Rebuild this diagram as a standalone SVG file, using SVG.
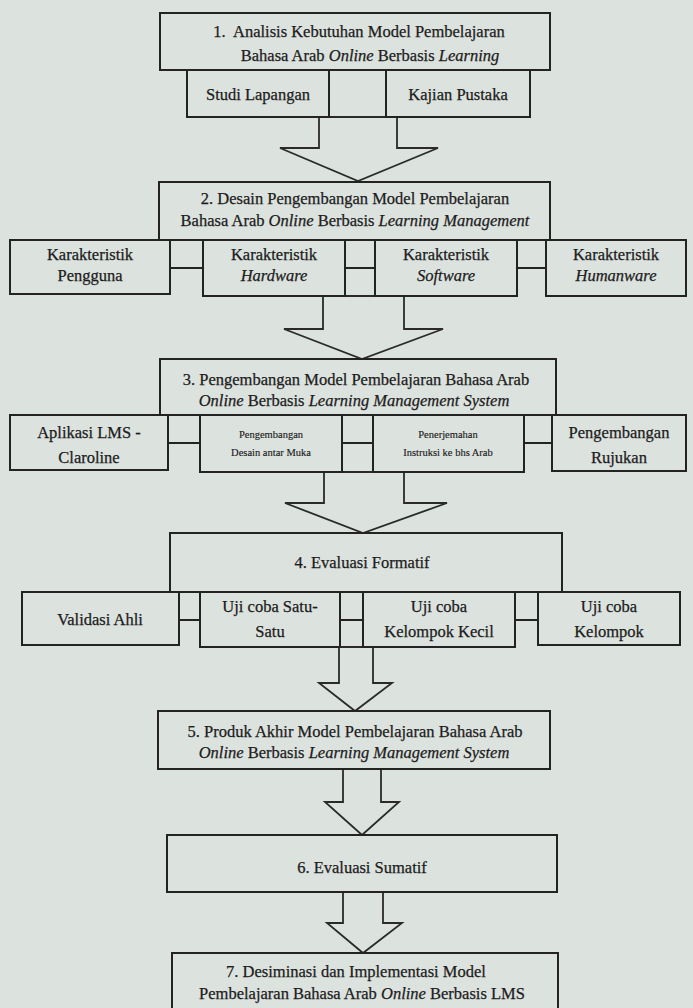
<svg xmlns="http://www.w3.org/2000/svg" width="693" height="1008" viewBox="0 0 693 1008">
<style>
.bg{fill:#dce2de}
.box{fill:none;stroke:#232323;stroke-width:2}
.arrow{fill:#dce2de;stroke:#2a2a2a;stroke-width:1.8;stroke-linejoin:miter}
.conn{stroke:#232323;stroke-width:2}
text{font-family:"Liberation Serif","Times New Roman",serif;font-size:16.5px;fill:#1c1c1c;stroke:#1c1c1c;stroke-width:0.25;text-anchor:middle}
.it{font-style:italic}
.sm{font-size:10.5px;stroke-width:0.15}
</style>
<rect class="bg" x="0" y="0" width="693" height="1008"/>

<g id="connectors">
  <polygon class="arrow" points="319,117 319,148 280,148 358,181 438,148 397,148 397,117"/>
  <polygon class="arrow" points="323,296 323,329 284,329 362,359 443,329 404,329 404,296"/>
  <polygon class="arrow" points="324,472 324,503 285,503 363,533 447,503 404,503 404,472"/>
  <polygon class="arrow" points="339,647 339,683 319,683 355,711 392,683 373,683 373,647"/>
  <polygon class="arrow" points="343,769 343,802 325,802 362,835 399,802 381,802 381,769"/>
  <polygon class="arrow" points="343,892 343,923 327,923 363,953 402,923 383,923 383,892"/>
  <line class="conn" x1="170" y1="268" x2="203" y2="268"/>
  <line class="conn" x1="345" y1="268" x2="375" y2="268"/>
  <line class="conn" x1="517" y1="268" x2="546" y2="268"/>
  <line class="conn" x1="168" y1="443" x2="200" y2="443"/>
  <line class="conn" x1="342" y1="443" x2="373" y2="443"/>
  <line class="conn" x1="524" y1="443" x2="552" y2="443"/>
  <line class="conn" x1="179" y1="620" x2="200" y2="620"/>
  <line class="conn" x1="340" y1="620" x2="363" y2="620"/>
  <line class="conn" x1="515" y1="620" x2="538" y2="620"/>
</g>

<g id="n1">
  <rect class="box" x="160" y="13" width="390" height="57"/>
  <text x="359" y="37">1.&#160; Analisis Kebutuhan Model Pembelajaran</text>
  <text x="370" y="61">Bahasa Arab <tspan class="it">Online</tspan> Berbasis <tspan class="it">Learning</tspan></text>
</g>
<g id="n1a">
  <rect class="box" x="187" y="70" width="142" height="47"/>
  <text x="258" y="100">Studi Lapangan</text>
</g>
<g id="n1b">
  <rect class="box" x="386" y="70" width="144" height="47"/>
  <text x="458" y="100">Kajian Pustaka</text>
</g>

<g id="n2">
  <rect class="box" x="159" y="182" width="391" height="58"/>
  <text x="355" y="204">2. Desain Pengembangan Model Pembelajaran</text>
  <text x="355" y="226">Bahasa Arab <tspan class="it">Online</tspan> Berbasis <tspan class="it">Learning Management</tspan></text>
</g>
<g id="n2a">
  <rect class="box" x="10" y="240" width="160" height="54"/>
  <text x="90" y="260">Karakteristik</text>
  <text x="90" y="281">Pengguna</text>
</g>
<g id="n2b">
  <rect class="box" x="203" y="240" width="142" height="56"/>
  <text x="274" y="260">Karakteristik</text>
  <text x="274" y="281" class="it">Hardware</text>
</g>
<g id="n2c">
  <rect class="box" x="375" y="240" width="142" height="56"/>
  <text x="446" y="260">Karakteristik</text>
  <text x="446" y="281" class="it">Software</text>
</g>
<g id="n2d">
  <rect class="box" x="546" y="240" width="140" height="56"/>
  <text x="616" y="260">Karakteristik</text>
  <text x="616" y="281" class="it">Humanware</text>
</g>

<g id="n3">
  <rect class="box" x="160" y="359" width="396" height="56"/>
  <text x="356" y="385">3. Pengembangan Model Pembelajaran Bahasa Arab</text>
  <text x="354" y="406"><tspan class="it">Online</tspan> Berbasis <tspan class="it">Learning Management System</tspan></text>
</g>
<g id="n3a">
  <rect class="box" x="10" y="415" width="158" height="55"/>
  <text x="89" y="438">Aplikasi LMS -</text>
  <text x="89" y="463">Claroline</text>
</g>
<g id="n3b">
  <rect class="box" x="200" y="415" width="142" height="57"/>
  <text x="271" y="438" class="sm">Pengembangan</text>
  <text x="271" y="456" class="sm">Desain antar Muka</text>
</g>
<g id="n3c">
  <rect class="box" x="373" y="415" width="151" height="57"/>
  <text x="448" y="438" class="sm">Penerjemahan</text>
  <text x="448" y="456" class="sm">Instruksi ke bhs Arab</text>
</g>
<g id="n3d">
  <rect class="box" x="552" y="415" width="134" height="56"/>
  <text x="619" y="438">Pengembangan</text>
  <text x="619" y="463">Rujukan</text>
</g>

<g id="n4">
  <rect class="box" x="170" y="533" width="392" height="59"/>
  <text x="362" y="568">4. Evaluasi Formatif</text>
</g>
<g id="n4a">
  <rect class="box" x="22" y="592" width="157" height="53"/>
  <text x="100" y="625">Validasi Ahli</text>
</g>
<g id="n4b">
  <rect class="box" x="200" y="592" width="140" height="55"/>
  <text x="270" y="612">Uji coba Satu-</text>
  <text x="270" y="637">Satu</text>
</g>
<g id="n4c">
  <rect class="box" x="363" y="592" width="152" height="55"/>
  <text x="439" y="612">Uji coba</text>
  <text x="439" y="637">Kelompok Kecil</text>
</g>
<g id="n4d">
  <rect class="box" x="538" y="592" width="142" height="53"/>
  <text x="609" y="612">Uji coba</text>
  <text x="609" y="637">Kelompok</text>
</g>

<g id="n5">
  <rect class="box" x="158" y="711" width="392" height="58"/>
  <text x="355" y="737">5. Produk Akhir Model Pembelajaran Bahasa Arab</text>
  <text x="354" y="758"><tspan class="it">Online</tspan> Berbasis <tspan class="it">Learning Management System</tspan></text>
</g>
<g id="n6">
  <rect class="box" x="167" y="835" width="390" height="57"/>
  <text x="362" y="873">6. Evaluasi Sumatif</text>
</g>
<g id="n7">
  <rect class="box" x="172" y="953" width="386" height="60"/>
  <text x="356" y="977">7. Desiminasi dan Implementasi Model</text>
  <text x="362" y="999">Pembelajaran Bahasa Arab <tspan class="it">Online</tspan> Berbasis LMS</text>
</g>
</svg>
